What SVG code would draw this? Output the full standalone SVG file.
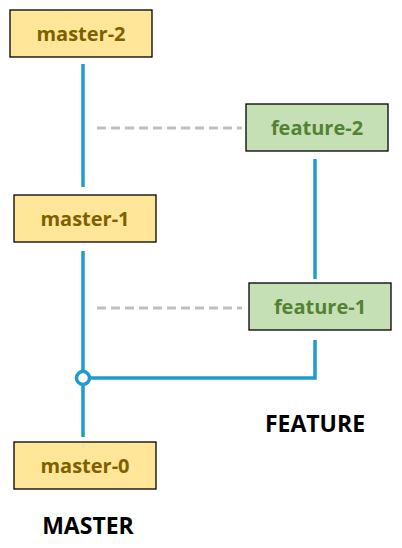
<svg xmlns="http://www.w3.org/2000/svg" width="402" height="548" viewBox="0 0 402 548">
<style>
.m rect{fill:#ffe699;stroke:#000;stroke-width:1.3}
.f rect{fill:#c5e0b4;stroke:#000;stroke-width:1.3}
.m text{fill:#7f6000}
.f text{fill:#548235}
text{font-family:"Open Sans","Liberation Sans",sans-serif;font-weight:bold;font-size:20px;text-anchor:middle}
.lbl{fill:#000;font-size:23px}
.b{stroke:#1f9bcf;stroke-width:3.5;fill:none}
.d{stroke:#bfbfbf;stroke-width:3;stroke-dasharray:9 5;fill:none}
</style>
<rect width="402" height="548" fill="#fff"/>
<g id="connectors">
<line class="b" x1="83" y1="64" x2="83" y2="187"/>
<line class="b" x1="83" y1="251" x2="83" y2="371"/>
<line class="b" x1="83" y1="385" x2="83" y2="437"/>
<polyline class="b" points="90,378 315,378 315,340"/>
<line class="b" x1="315" y1="159" x2="315" y2="279"/>
<circle class="b" cx="83" cy="378" r="6.5" fill="#fff"/>
<line class="d" x1="97" y1="128" x2="242" y2="128"/>
<line class="d" x1="97" y1="308" x2="242" y2="308"/>
</g>
<g id="master-2" class="m"><rect x="10" y="10" width="142" height="47"/><text x="81" y="41">master-2</text></g>
<g id="master-1" class="m"><rect x="14" y="195" width="142" height="47"/><text x="85" y="226">master-1</text></g>
<g id="master-0" class="m"><rect x="14" y="442" width="142" height="47"/><text x="85" y="473">master-0</text></g>
<g id="feature-2" class="f"><rect x="246" y="104" width="142" height="47"/><text x="317" y="135">feature-2</text></g>
<g id="feature-1" class="f"><rect x="249" y="283" width="142" height="47"/><text x="320" y="314">feature-1</text></g>
<text class="lbl" x="315" y="432">FEATURE</text>
<text class="lbl" x="88" y="534">MASTER</text>
</svg>
